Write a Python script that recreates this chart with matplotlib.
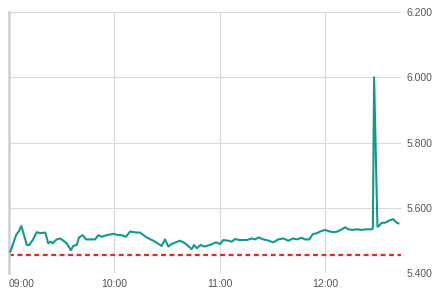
import matplotlib.pyplot as plt

# minutes after 09:00 and price
minutes = [1, 2.4, 4.3, 6.1, 7.3, 8.4, 10.4, 11.8, 13.8, 16.0, 18.3, 20.9, 22.6, 24.0,
           25.1, 27.4, 29.3, 31.2, 33.1, 35.4, 36.9, 38.8, 40.1, 42.2, 44.1, 46.3,
           49.2, 51.1, 53.0, 55.8, 59.6, 62.4, 64.4, 66.8, 69.1, 72.9, 74.8, 78.6,
           82.3, 87.1, 89.0, 90.9, 92.8, 97.5, 100.4, 104.2, 105.5, 107.0, 109.3,
           111.2, 114.6, 118.0, 120.3, 122.2, 125.0, 126.9, 128.8, 131.7, 135.5,
           138.3, 140.2, 142.1, 144.9, 146.8, 150.6, 153.4, 156.3, 159.1, 162.0,
           163.9, 166.7, 168.6, 171.1, 173.0, 175.3, 177.2, 180.0, 182.8, 185.1,
           187.0, 188.9, 191.4, 193.2, 195.7, 198.0, 200.9, 203.3, 206.6, 207.2,
           207.9, 209.8, 210.3, 212.2, 214.1, 217.0, 218.8, 220.8, 221.7]
price = [5.465, 5.486, 5.516, 5.530, 5.544, 5.524, 5.486, 5.486, 5.501, 5.525, 5.522,
         5.524, 5.491, 5.496, 5.491, 5.503, 5.506, 5.499, 5.491, 5.470, 5.483, 5.486,
         5.509, 5.516, 5.503, 5.503, 5.503, 5.516, 5.511, 5.516, 5.520, 5.516, 5.516,
         5.511, 5.527, 5.524, 5.524, 5.509, 5.499, 5.483, 5.503, 5.481, 5.489, 5.499,
         5.491, 5.473, 5.486, 5.476, 5.486, 5.481, 5.486, 5.494, 5.489, 5.501, 5.499,
         5.496, 5.504, 5.501, 5.501, 5.506, 5.503, 5.509, 5.503, 5.501, 5.494, 5.503,
         5.506, 5.499, 5.506, 5.503, 5.508, 5.503, 5.503, 5.519, 5.522, 5.527, 5.532,
         5.527, 5.525, 5.527, 5.532, 5.540, 5.534, 5.532, 5.534, 5.532, 5.534, 5.534,
         5.537, 6.000, 5.542, 5.542, 5.554, 5.554, 5.562, 5.565, 5.554, 5.552]
prev_close = 5.456

x_ticks = [0, 60, 120, 180]
x_labels = ['09:00', '10:00', '11:00', '12:00']
y_ticks = [5.4, 5.6, 5.8, 6.0, 6.2]
y_labels = ['5.400', '5.600', '5.800', '6.000', '6.200']

plt.rcParams['font.family'] = ['Liberation Sans', 'DejaVu Sans']

fig = plt.figure(figsize=(4.42, 2.93), dpi=100)
ax = fig.add_axes([8.5 / 442, 20 / 293, 392.5 / 442, 261 / 293])

ax.plot(minutes, price, color='#16988a', lw=1.5, solid_joinstyle='round', zorder=3)
ax.axhline(prev_close, color='#e3262b', lw=1.6, ls=(0, (2.2, 1.6)), zorder=2)

ax.set_xlim(0, 223.2)
ax.set_ylim(5.4, 6.2)
ax.set_xticks(x_ticks)
ax.set_xticklabels(x_labels)
ax.set_yticks(y_ticks)
ax.set_yticklabels(y_labels)
ax.yaxis.tick_right()
ax.grid(True, color='#d8d8d8', lw=0.8)
ax.tick_params(length=0, labelsize=7.5, colors='#555555', pad=4)
ax.get_xticklabels()[0].set_horizontalalignment('left')

for side in ['top', 'bottom', 'right']:
    ax.spines[side].set_visible(False)
ax.spines['left'].set_color('#cfcfcf')
ax.spines['left'].set_linewidth(1.8)

fig.savefig('out.png', dpi=100)
